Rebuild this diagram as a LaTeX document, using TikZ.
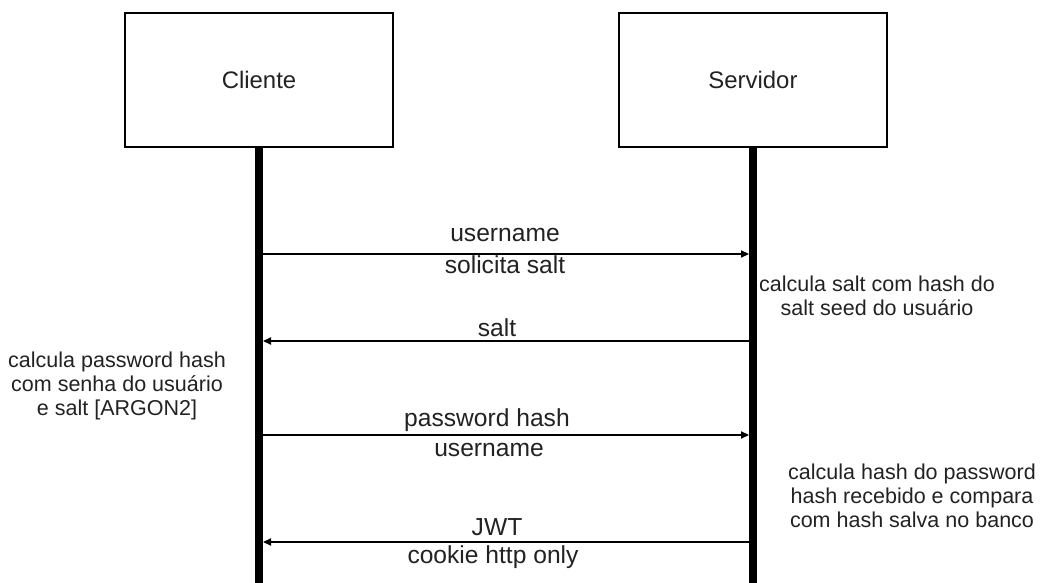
\documentclass[tikz,border=0pt]{standalone}
\usepackage{fontspec}
\setmainfont{Liberation Sans}
\usetikzlibrary{arrows.meta,positioning}
\definecolor{seqTexto}{HTML}{222222}
\tikzset{
	ator/.style={
		draw=black,
		line width=0.8pt,
		fill=white,
		minimum width=6.7cm,
		minimum height=3.35cm,
		align=center,
		font=\fontsize{17}{20}\selectfont,
		text=seqTexto
	},
	vida/.style={
		line width=0.2cm,
		black
	},
	mensagem/.style={
		-{Triangle[length=2mm,width=1.8mm]},
		line width=0.8pt,
		shorten >=0.1cm,
		shorten <=0.1cm
	},
	rotulo/.style={
		inner sep=0pt,
		font=\fontsize{17.5}{20}\selectfont,
		text=seqTexto
	},
	nota/.style={
		inner sep=0pt,
		align=center,
		font=\fontsize{15.3}{17}\selectfont,
		text=seqTexto
	}
}

\begin{document}
\begin{tikzpicture}[x=0.025cm, y=-0.025cm]
		\useasboundingbox (0,0) rectangle (1041,583);
		% atores
		\node[ator] (cliente) at (259,80) {Cliente};
		\node[ator] (servidor) at (753,80) {Servidor};
		\coordinate (clienteFim) at (259,583);
		\coordinate (servidorFim) at (753,583);
		\draw[vida] (cliente.south) -- (clienteFim);
		\draw[vida] (servidor.south) -- (servidorFim);
		% pontos das mensagens
		\coordinate (c1) at (259,254);
		\coordinate (s1) at (753,254);
		\coordinate (c2) at (259,341);
		\coordinate (s2) at (753,341);
		\coordinate (c3) at (259,435);
		\coordinate (s3) at (753,435);
		\coordinate (c4) at (259,542);
		\coordinate (s4) at (753,542);
		\draw[mensagem] (c1) -- (s1);
		\draw[mensagem] (s2) -- (c2);
		\draw[mensagem] (c3) -- (s3);
		\draw[mensagem] (s4) -- (c4);
		% rotulos
		\node[rotulo] (m1a) at (505,235) {username};
		\node[rotulo] (m1b) at (505,265) {solicita salt};
		\node[rotulo] (m2a) at (497,328) {salt};
		\node[rotulo] (m3a) at (487,420) {password hash};
		\node[rotulo] (m3b) at (489,450) {username};
		\node[rotulo] (m4a) at (497,527) {JWT};
		\node[rotulo] (m4b) at (493,557) {cookie http only};
		% notas
		\node[nota] (notaSalt) at (877,296) {calcula salt com hash do\\salt seed do usuário};
		\node[nota] (notaArgon) at (117,386) {calcula password hash\\com senha do usuário\\e salt [ARGON2]};
		\node[nota] (notaBanco) at (912,496) {calcula hash do password\\hash recebido e compara\\com hash salva no banco};
	\end{tikzpicture}
\end{document}
